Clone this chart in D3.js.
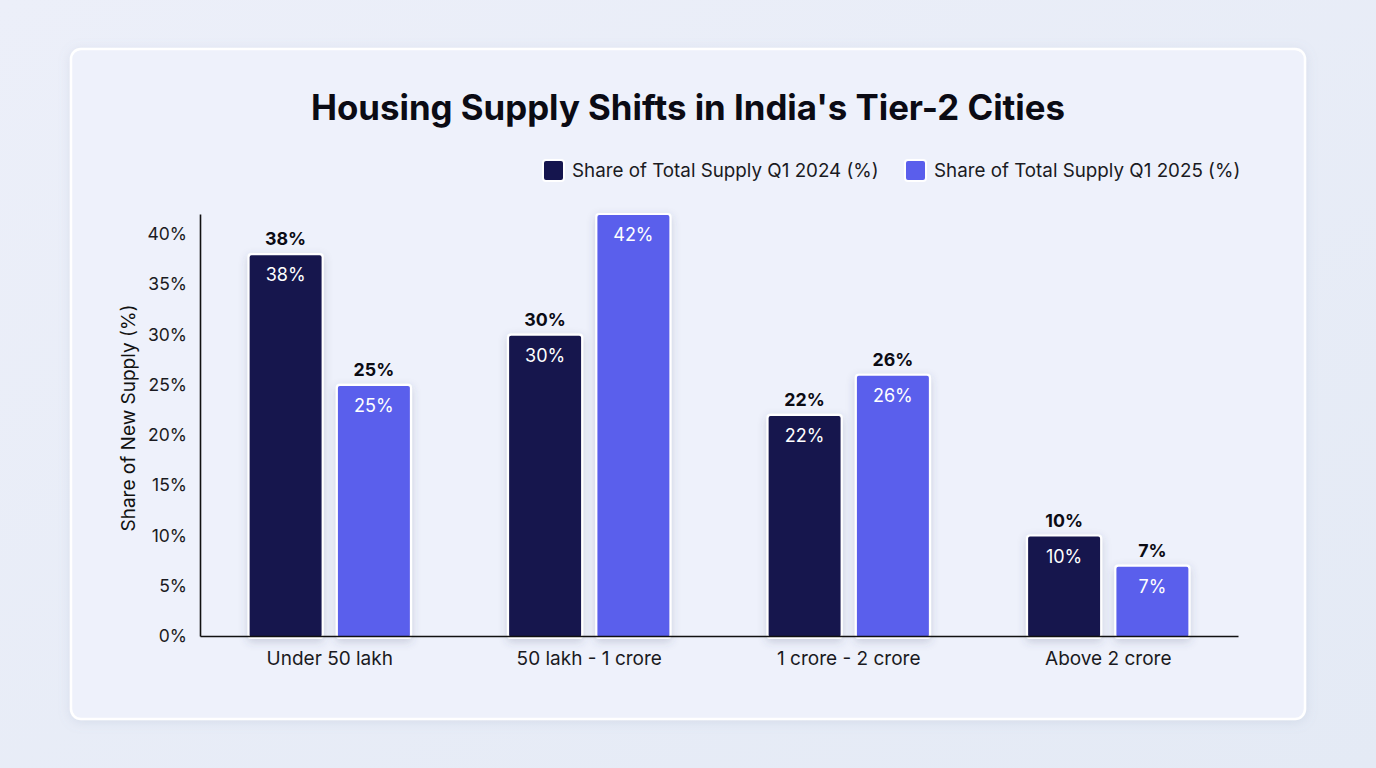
<!DOCTYPE html>
<html><head><meta charset="utf-8">
<script src="https://cdn.jsdelivr.net/npm/d3@7"></script>
<style>
html,body{margin:0;padding:0;background:#e7ecf6;}
body{width:1376px;height:768px;overflow:hidden;font-family:Inter,"Noto Sans",sans-serif;}
</style></head><body>
<svg id="chart" width="1376" height="768"></svg>
<script>
const categories = ["Under 50 lakh", "50 lakh - 1 crore", "1 crore - 2 crore", "Above 2 crore"];
const seriesNames = ["Share of Total Supply Q1 2024 (%)", "Share of Total Supply Q1 2025 (%)"];
const values2024 = [38, 30, 22, 10];
const values2025 = [25, 42, 26, 7];
const yTicks = [0, 5, 10, 15, 20, 25, 30, 35, 40];
const colors = ["#15154e", "#5a5eec"];

(function(){
const svg = d3.select("#chart");
const defs = svg.append("defs");
const bg = defs.append("linearGradient").attr("id","bg").attr("x1","0").attr("y1","0").attr("x2","1").attr("y2","1");
bg.append("stop").attr("offset","0%").attr("stop-color","#eceff9");
bg.append("stop").attr("offset","100%").attr("stop-color","#e4eaf5");
svg.append("rect").attr("width",1376).attr("height",768).attr("fill","url(#bg)");

const sh = defs.append("filter").attr("id","cardShadow").attr("x","-5%").attr("y","-5%").attr("width","110%").attr("height","110%");
sh.append("feDropShadow").attr("dx",0).attr("dy",2).attr("stdDeviation",6).attr("flood-color","#8090b0").attr("flood-opacity",0.18);
const bsh = defs.append("filter").attr("id","barShadow").attr("x","-30%").attr("y","-10%").attr("width","160%").attr("height","130%");
bsh.append("feDropShadow").attr("dx",0).attr("dy",3).attr("stdDeviation",4).attr("flood-color","#404a70").attr("flood-opacity",0.22);

// card
svg.append("rect").attr("x",71).attr("y",49).attr("width",1234).attr("height",670)
  .attr("rx",10).attr("fill","#eef1fb").attr("stroke","#ffffff").attr("stroke-width",2.5)
  .attr("filter","url(#cardShadow)");

// title
svg.append("text").attr("x",688).attr("y",120).attr("text-anchor","middle")
  .attr("font-size",34.8).attr("font-weight",700).attr("fill","#0b0b14")
  .text("Housing Supply Shifts in India's Tier-2 Cities");

// legend
const legendX = [543, 905];
seriesNames.forEach((s,i)=>{
  const g = svg.append("g").attr("transform",`translate(${legendX[i]},160)`);
  g.append("rect").attr("width",21).attr("height",21).attr("rx",3).attr("fill",colors[i])
    .attr("stroke","#ffffff").attr("stroke-width",2);
  g.append("text").attr("x",29).attr("y",17).attr("font-size",18.8).attr("fill","#1a1a22").text(s);
});

const pLeft = 200, pRight = 1238, pTop = 214, pBottom = 636;
const x0 = d3.scaleBand().domain(categories).range([pLeft,pRight]).padding(0);
const bw = x0.bandwidth();
const x1 = d3.scaleBand().domain([0,1]).range([bw*0.187, bw*0.813]).paddingInner(0.16);
const y = d3.scaleLinear().domain([0,42]).range([pBottom, pTop]);

const data = categories.map((c,i)=>({cat:c, vals:[values2024[i], values2025[i]]}));

// bars
const groups = svg.append("g").selectAll("g").data(data).join("g")
  .attr("transform",d=>`translate(${x0(d.cat)},0)`);
groups.selectAll("rect").data(d=>d.vals.map((v,k)=>({v,k}))).join("rect")
  .attr("x",d=>x1(d.k)).attr("width",x1.bandwidth())
  .attr("y",d=>y(d.v)).attr("height",d=>pBottom - y(d.v) + 2)
  .attr("rx",3).attr("fill",d=>colors[d.k])
  .attr("stroke","#ffffff").attr("stroke-width",2.2)
  .attr("filter","url(#barShadow)");

// inner labels
groups.selectAll("text.inner").data(d=>d.vals.map((v,k)=>({v,k}))).join("text")
  .attr("class","inner")
  .attr("x",d=>x1(d.k)+x1.bandwidth()/2).attr("y",d=>y(d.v)+27)
  .attr("text-anchor","middle").attr("font-size",18).attr("fill","#ffffff")
  .text(d=>d.v+"%");
// outer labels (only if they fit inside plot area)
groups.selectAll("text.outer").data(d=>d.vals.map((v,k)=>({v,k})).filter(e=>y(e.v)-22 >= pTop)).join("text")
  .attr("class","outer")
  .attr("x",d=>x1(d.k)+x1.bandwidth()/2).attr("y",d=>y(d.v)-9)
  .attr("text-anchor","middle").attr("font-size",17.8).attr("font-weight",700).attr("fill","#0b0b14")
  .text(d=>d.v+"%");

// axes
const yAxis = d3.axisLeft(y).tickValues(yTicks).tickFormat(d=>d+"%").tickSize(0).tickPadding(13);
const ya = svg.append("g").attr("transform",`translate(${pLeft},0)`).call(yAxis);
ya.select(".domain").attr("stroke","#111").attr("stroke-width",1.6);
ya.selectAll("text").attr("font-size",17.5).attr("fill","#1a1a22").attr("font-family","Inter,'Noto Sans',sans-serif");

const xAxis = d3.axisBottom(x0).tickSize(0).tickPadding(16);
const xa = svg.append("g").attr("transform",`translate(0,${pBottom})`).call(xAxis);
xa.select(".domain").attr("stroke","#111").attr("stroke-width",1.6);
xa.selectAll("text").attr("font-size",19).attr("fill","#1a1a22").attr("font-family","Inter,'Noto Sans',sans-serif");

// y axis title
svg.append("text").attr("transform","translate(135,418) rotate(-90)").attr("text-anchor","middle")
  .attr("font-size",19).attr("fill","#111").text("Share of New Supply (%)");
})();
</script>
</body></html>
